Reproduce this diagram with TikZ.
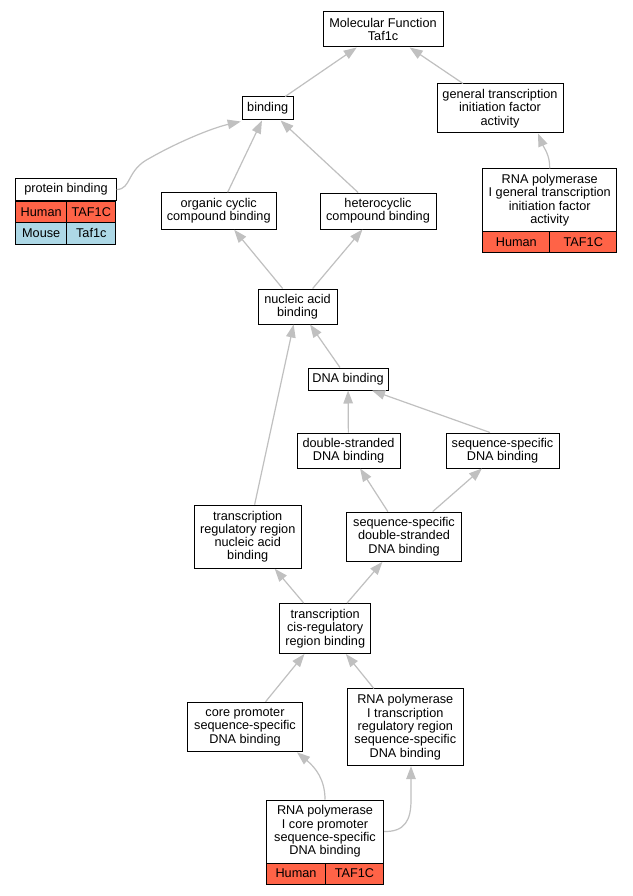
\documentclass[tikz,border=0pt]{standalone}
\usepackage{fontspec}
\setmainfont{Liberation Sans}
\usetikzlibrary{arrows.meta}
\definecolor{edgec}{HTML}{C0C0C0}
\definecolor{human}{HTML}{FF6347}
\definecolor{mouse}{HTML}{ADD8E6}
\tikzset{
  term/.style={draw=black, line width=1pt, fill=white, align=center, inner sep=0pt,
    font=\fontsize{12.7}{13.3}\selectfont},
  sz/.style 2 args={minimum width=#1pt, minimum height=#2pt},
  hum/.style={term, fill=human},
  mou/.style={term, fill=mouse},
  edge/.style={draw=edgec, line width=1.2pt, -{Triangle[length=13pt,width=9.5pt]}}
}
\begin{document}
\begin{tikzpicture}[x=1pt,y=-1pt]
\useasboundingbox[fill=white] (0,0) rectangle (632,896);
% nodes
\node[term, sz={120}{35}] (mf) at (383,29.5) {Molecular Function\\Taf1c};
\node[term, sz={51}{23}] (bind) at (267.7,108.5) {binding};
\node[term, sz={126}{49}] (gti) at (500,108.5) {general transcription\\initiation factor\\activity};
% protein binding table
\node[term, sz={100.3}{22.7}] (pb) at (66,189.6) {protein binding};
\node[hum, sz={51}{21.7}] (pbh) at (41.2,211.9) {Human};
\node[hum, sz={49.3}{21.7}] (pbt) at (91.3,211.9) {TAF1C};
\node[mou, sz={51}{21.3}] (pbm) at (41.2,233.4) {Mouse};
\node[mou, sz={49.3}{21.3}] (pbmt) at (91.3,233.4) {Taf1c};
\node[term, sz={115}{36.5}] (ocb) at (218.7,211) {organic cyclic\\compound binding};
\node[term, sz={116}{36}] (hcb) at (378,211) {heterocyclic\\compound binding};
% RNA pol I general table
\node[term, sz={134}{62.7}] (rpg) at (549.7,200.3) {RNA polymerase\\I general transcription\\initiation factor\\activity};
\node[hum, sz={67.3}{21}] (rpgh) at (516.3,242.2) {Human};
\node[hum, sz={66.7}{21}] (rpgt) at (583.3,242.2) {TAF1C};
\node[term, sz={79}{35}] (nab) at (297.5,306.5) {nucleic acid\\binding};
\node[term, sz={80}{22}] (dna) at (348,379) {DNA binding};
\node[term, sz={103}{35}] (dsd) at (348.5,450.5) {double-stranded\\DNA binding};
\node[term, sz={113}{35}] (ssd) at (502.5,450.5) {sequence-specific\\DNA binding};
\node[term, sz={107}{63}] (trr) at (247.7,536.7) {transcription\\regulatory region\\nucleic acid\\binding};
\node[term, sz={115.4}{49.3}] (ssds) at (404,536.7) {sequence-specific\\double-stranded\\DNA binding};
\node[term, sz={91}{50}] (cis) at (325.2,628.5) {transcription\\cis-regulatory\\region binding};
\node[term, sz={115.4}{49.7}] (core) at (245,727) {core promoter\\sequence-specific\\DNA binding};
\node[term, sz={116}{76.7}] (rtr) at (405.3,727.3) {RNA polymerase\\I transcription\\regulatory region\\sequence-specific\\DNA binding};
% RNA pol I core table
\node[term, sz={117}{63}] (rcp) at (325,831.5) {RNA polymerase\\I core promoter\\sequence-specific\\DNA binding};
\node[hum, sz={59}{21}] (rcph) at (296,873.5) {Human};
\node[hum, sz={58}{21}] (rcpt) at (354.5,873.5) {TAF1C};
% edges
\draw[edge] (bind) -- (mf);
\draw[edge] (gti) -- (mf);
\draw[edge] (pb.east) .. controls (132,189) and (126,170) .. (150,158)
   .. controls (178,142) and (212,128) .. ([xshift=-1pt,yshift=-1pt]bind.south west);
\draw[edge] (ocb) -- (bind);
\draw[edge] (hcb) -- (bind);
\draw[edge] (rpg.north) .. controls (550,155) and (544,148) .. ([xshift=38pt]gti.south);
\draw[edge] (nab) -- (ocb);
\draw[edge] (nab) -- (hcb);
\draw[edge] (dna) -- (nab);
\draw[edge] (trr) -- (nab);
\draw[edge] (dsd) -- (dna);
\draw[edge] ([xshift=-12.5pt]ssd.north) -- ([xshift=24pt]dna.south);
\draw[edge] (ssds) -- (dsd);
\draw[edge] (ssds) -- (ssd);
\draw[edge] (cis) -- (trr);
\draw[edge] (cis) -- (ssds);
\draw[edge] (core) -- (cis);
\draw[edge] (rtr) -- (cis);
\draw[edge] (rcp.north) .. controls (325,780) and (316,768) .. ([xshift=52pt]core.south);
\draw[edge] (rcp.east) .. controls (405,832) and (411,820) .. (411,800) -- ([xshift=5.7pt]rtr.south);
\end{tikzpicture}
\end{document}
